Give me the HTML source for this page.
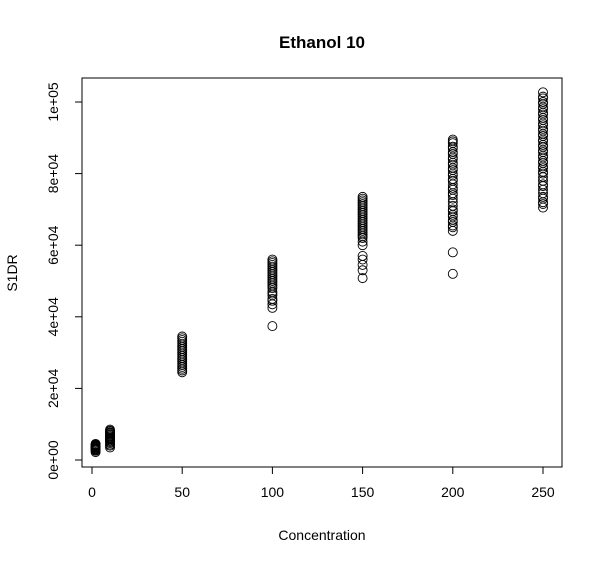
<!DOCTYPE html>
<html><head><meta charset="utf-8"><style>
body{margin:0;background:#fff;}
svg text{font-family:"Liberation Sans",sans-serif;fill:#000;}
</style></head><body>
<svg id="chart" width="603" height="565">
<rect width="603" height="565" fill="#fff"/>
<text x="322" y="48" text-anchor="middle" font-size="17" font-weight="bold">Ethanol 10</text>
<rect x="82" y="78" width="480" height="389" fill="none" stroke="#000"/>
<text x="322" y="540" text-anchor="middle" font-size="14">Concentration</text>
<text transform="translate(17,273) rotate(-90)" text-anchor="middle" font-size="14">S1DR</text>
<g id="axes"></g><g id="pts"></g>
</svg>
<script>
const xTicks=[0,50,100,150,200,250];
const yTicks=[0,20000,40000,60000,80000,100000];
const yTickLabels=["0e+00","2e+04","4e+04","6e+04","8e+04","1e+05"];
const groupX=[2,10,50,100,150,200,250];
const g2=[2200,2600,2800,3000,3200,3300,3500,3600,3800,3900,4000,4100,4200,4300,4500];
const g10=[3500,4000,4300,4700,5000,5300,5500,5800,6000,6200,6500,6700,7000,7200,7500,7700,8000,8200,8500];
const g50=[24500,25000,25500,26000,26500,27000,27500,28000,28500,29000,29500,30000,30500,31000,31500,32000,32500,33000,33500,34000,34500];
const g100=[37400,42500,43500,44500,45000,46000,46500,47000,48000,48500,49000,49500,50000,50500,51000,51500,52000,52500,53000,53500,54000,54500,55000,55500,56000];
const g150=[50800,53000,54500,56000,57000,60000,61000,62000,62500,63000,63500,64000,64500,65000,65500,66000,66500,67000,67500,68000,68500,69000,69500,70000,70500,71000,71500,72000,72500,73000,73500];
const g200=[52000,58000,64000,65000,65500,66500,67000,68000,68500,69500,70000,71000,72000,73000,74000,74500,75500,76000,77000,78000,78500,79500,80000,81000,81500,82500,83000,84000,84500,85500,86000,87000,87500,88500,89000,89500];
const g250=[70500,71500,72000,73000,73500,74500,75500,76500,77000,78000,79000,80000,80500,81500,82000,83000,83500,84500,85000,86000,86500,87500,88000,89000,89500,90500,91000,92000,92500,93500,94000,95000,95500,96500,97000,98000,98500,99500,100000,101000,101500,102700];
const groups=[g2,g10,g50,g100,g150,g200,g250];
const sx=v=>92+v*(543-92)/250;
const sy=v=>460-v*(460-102)/100000;
const NS="http://www.w3.org/2000/svg";
const ax=document.getElementById('axes'),pt=document.getElementById('pts');
function mk(t,a,p){const e=document.createElementNS(NS,t);for(const k in a)e.setAttribute(k,a[k]);p.appendChild(e);return e;}
const xl=mk('line',{x1:sx(0),x2:sx(250),y1:467,y2:467,stroke:'#000'},ax);


xTicks.forEach(v=>{
 const l=mk('line',{x1:sx(v),x2:sx(v),y1:467,y2:474,stroke:'#000'},ax);
 
 
 const t=mk('text',{x:sx(v),y:497,'text-anchor':'middle','font-size':14},ax);t.textContent=v;
 
 
});
const yl=mk('line',{x1:82,x2:82,y1:sy(0),y2:sy(100000),stroke:'#000'},ax);


yTicks.forEach((v,i)=>{
 const l=mk('line',{x1:75,x2:82,y1:sy(v),y2:sy(v),stroke:'#000'},ax);
 
 
 const t=mk('text',{transform:`translate(58,${sy(v)}) rotate(-90)`,'text-anchor':'middle','font-size':14},ax);t.textContent=yTickLabels[i];
 
 
});
groups.forEach((arr,gi)=>arr.forEach(v=>{
 const c=mk('circle',{cx:sx(groupX[gi]),cy:sy(v),r:4.5,fill:'none',stroke:'#000','stroke-width':0.9},pt);
 
 
}));
</script>
</body></html>
